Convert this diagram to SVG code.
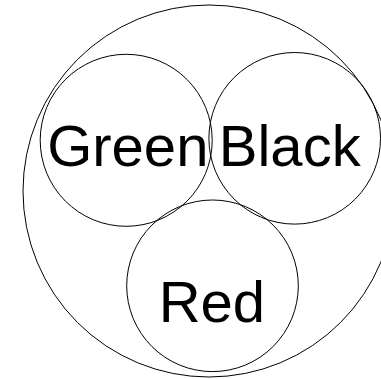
<svg xmlns="http://www.w3.org/2000/svg" width="381" height="379" viewBox="0 0 381 379">
<style>
.c{fill:none;stroke:#000;stroke-width:1}
.t{font-family:"Liberation Sans",Arial,sans-serif;font-size:58px;fill:#000}
</style>
<rect width="381" height="379" fill="#fff"/>
<g id="outer"><circle class="c" cx="209" cy="191" r="186"/></g>
<g id="green"><circle class="c" cx="126.2" cy="140.3" r="86"/><text class="t" x="47.2" y="166">Green</text></g>
<g id="black"><circle class="c" cx="294.7" cy="138.3" r="85.8"/><text class="t" x="218.8" y="166">Black</text></g>
<g id="red"><circle class="c" cx="212.5" cy="285.8" r="85.8"/><text class="t" x="158.7" y="322">Red</text></g>
<g id="connectors"/>
</svg>
